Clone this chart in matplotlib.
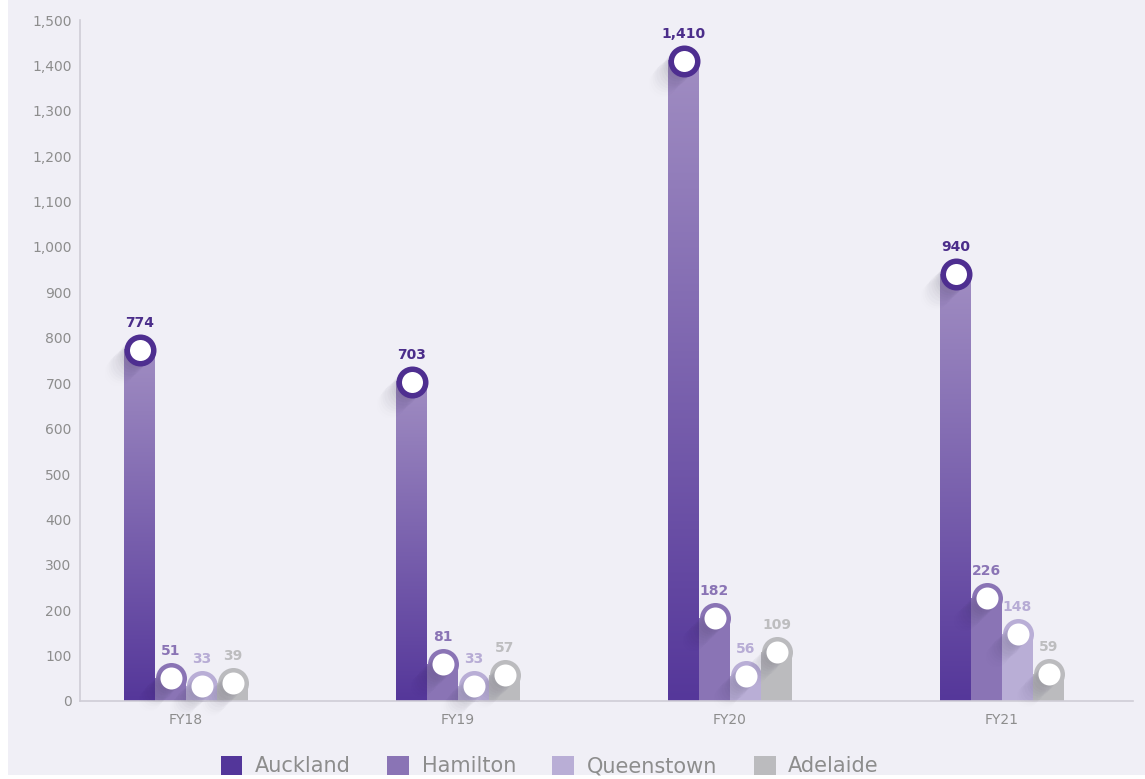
import matplotlib

matplotlib.use("Agg")
import matplotlib.pyplot as plt
from matplotlib.colors import LinearSegmentedColormap
from matplotlib.patches import Patch, Rectangle
import numpy as np

# visitor numbers per site and financial year
GROUPS = ["FY18", "FY19", "FY20", "FY21"]
AUCKLAND = [774, 703, 1410, 940]
HAMILTON = [51, 81, 182, 226]
QUEENSTOWN = [33, 33, 56, 148]
ADELAIDE = [39, 57, 109, 59]
SERIES = ["Auckland", "Hamilton", "Queenstown", "Adelaide"]

BG = "#f0eff6"
AXIS_GREY = "#cfcdd6"
TEXT_GREY = "#8d8d8d"
RING = "#4e2e90"
FILLS = {
    "Auckland": "#53369a",
    "Hamilton": "#8a74b5",
    "Queenstown": "#b9aed6",
    "Adelaide": "#bbbbbe",
}
LABEL_COLORS = {
    "Auckland": "#4b2d8a",
    "Hamilton": "#8a74b5",
    "Queenstown": "#b7acd5",
    "Adelaide": "#bdbdbf",
}
GRADIENT = LinearSegmentedColormap.from_list("auck", ["#55379a", "#a08dc2"])

DPI = 100
W_PX, H_PX = 1145, 779
AX_LEFT, AX_RIGHT, AX_BOTTOM, AX_TOP = 80, 1133, 701, 20
FIRST_CENTER, GROUP_STEP = 186, 272
BAR_PX = 31
YMAX = 1500


def px_to_pt(px: float) -> float:
    return px * 72.0 / DPI


def main() -> None:
    plt.rcParams["font.family"] = ["DejaVu Sans"]
    fig = plt.figure(figsize=(W_PX / DPI, H_PX / DPI), dpi=DPI, facecolor="white")
    fig.patches.append(
        Rectangle((8 / W_PX, 4 / H_PX), 1, 1, transform=fig.transFigure,
                  facecolor=BG, edgecolor="none", zorder=-10)
    )

    ax = fig.add_axes([
        AX_LEFT / W_PX,
        (H_PX - AX_BOTTOM) / H_PX,
        (AX_RIGHT - AX_LEFT) / W_PX,
        (AX_BOTTOM - AX_TOP) / H_PX,
    ])
    ax.set_facecolor("none")
    x_lo = (AX_LEFT - FIRST_CENTER) / GROUP_STEP
    x_hi = (AX_RIGHT - FIRST_CENTER) / GROUP_STEP

    # data units per pixel
    dx = 1.0 / GROUP_STEP
    dy = YMAX / (AX_BOTTOM - AX_TOP)
    bar_w = BAR_PX * dx

    values = {
        "Auckland": AUCKLAND,
        "Hamilton": HAMILTON,
        "Queenstown": QUEENSTOWN,
        "Adelaide": ADELAIDE,
    }
    x = np.arange(len(GROUPS))
    offsets = (np.arange(len(SERIES)) - 1.5) * bar_w

    gradient = np.linspace(0, 1, 256).reshape(-1, 1)

    def shadow(cx, cy, radius_px):
        # soft diagonal drop shadow trailing down-left of a marker
        n = 10
        for k in range(1, n + 1):
            ax.scatter(
                cx - k * 2.2 * dx, cy - k * 2.2 * dy,
                s=px_to_pt(2 * radius_px) ** 2, color="#2a2440",
                alpha=0.04 * (1 - k / (n + 1)), linewidths=0,
                zorder=3, clip_on=False,
            )

    for name, off in zip(SERIES, offsets):
        for xi, v in zip(x, values[name]):
            cx = xi + off
            if name == "Auckland":
                ax.imshow(
                    gradient, cmap=GRADIENT, origin="lower", aspect="auto",
                    extent=(cx - bar_w / 2, cx + bar_w / 2, 0, v), zorder=2,
                )
                shadow(cx, v, 14)
                ax.scatter(
                    cx, v, s=px_to_pt(26.5) ** 2, facecolor="white",
                    edgecolor=RING, linewidths=px_to_pt(5.5), zorder=5,
                )
            else:
                ax.bar(cx, v, width=bar_w, color=FILLS[name], linewidth=0,
                       zorder=2)
                ax.scatter(cx, v, s=px_to_pt(BAR_PX) ** 2, color=FILLS[name],
                           linewidths=0, zorder=2)
                shadow(cx, v, 11)
                ax.scatter(cx, v, s=px_to_pt(22) ** 2, color="white",
                           linewidths=0, zorder=5)
            ax.annotate(
                f"{v:,}", (cx, v), xytext=(0, px_to_pt(27)),
                textcoords="offset points", ha="center", va="center",
                fontsize=10, fontweight="bold", color=LABEL_COLORS[name],
                zorder=6,
            )

    ax.set_xlim(x_lo, x_hi)
    ax.set_ylim(0, YMAX)
    ax.set_yticks(np.arange(0, YMAX + 1, 100))
    ax.set_yticklabels([f"{t:,}" for t in range(0, YMAX + 1, 100)])
    ax.set_xticks(x)
    ax.set_xticklabels(GROUPS)
    ax.tick_params(axis="both", length=0, colors=TEXT_GREY, labelsize=10)
    ax.tick_params(axis="y", pad=6)
    ax.tick_params(axis="x", pad=9)
    for side in ("top", "right"):
        ax.spines[side].set_visible(False)
    for side in ("left", "bottom"):
        ax.spines[side].set_color(AXIS_GREY)
        ax.spines[side].set_linewidth(1.2)

    handles = [Patch(facecolor=FILLS[n], edgecolor="none", label=n)
               for n in SERIES]
    fig.legend(
        handles=handles, loc="center", bbox_to_anchor=(0.48, 0.0167),
        ncol=4, frameon=False, fontsize=15, labelcolor=TEXT_GREY,
        handlelength=1.05, handleheight=1.05, handletextpad=0.6,
        columnspacing=1.75,
    )

    fig.savefig("out.png", dpi=DPI, facecolor="white")


if __name__ == "__main__":
    main()
